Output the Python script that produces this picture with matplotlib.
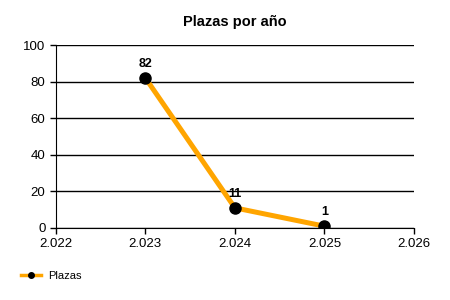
import matplotlib
matplotlib.use("Agg")
import matplotlib.pyplot as plt
from matplotlib.lines import Line2D
from matplotlib.ticker import FuncFormatter

years = [2023, 2024, 2025]
plazas = [82, 11, 1]
x_ticks = [2022, 2023, 2024, 2025, 2026]
y_ticks = [0, 20, 40, 60, 80, 100]

plt.rcParams["font.family"] = ["Liberation Sans", "DejaVu Sans"]

fig = plt.figure(figsize=(4.5, 3), dpi=100)
ax = fig.add_axes([0.124, 0.24, 0.796, 0.61])

ax.plot(years, plazas, color="#FFA500", linewidth=3.6, marker="o",
        markersize=8, markerfacecolor="black", markeredgecolor="black",
        zorder=3)

for x, y in zip(years, plazas):
    ax.annotate(str(y), (x, y), textcoords="offset points", xytext=(0, 6),
                ha="center", va="bottom", fontsize=9, fontweight="bold")

ax.set_xlim(2022, 2026)
ax.set_ylim(0, 100)
ax.set_xticks(x_ticks)
ax.set_yticks(y_ticks)
ax.xaxis.set_major_formatter(FuncFormatter(lambda v, p: f"{int(v):,}".replace(",", ".")))
ax.grid(axis="y", color="black", linewidth=1)
ax.set_axisbelow(True)
for s in ["top", "right"]:
    ax.spines[s].set_visible(False)
ax.tick_params(labelsize=9.5, length=4, width=1)
ax.set_title("Plazas por año", fontsize=10.5, fontweight="bold", pad=14)

# legend handle: thin orange line with small black dot
handle = Line2D([], [], color="#FFA500", linewidth=2.5, marker="o",
                markersize=4, markerfacecolor="black", markeredgecolor="black")
fig.legend([handle], ["Plazas"], loc="lower left", bbox_to_anchor=(0.025, 0.03),
           frameon=False, fontsize=8, handlelength=1.8, handletextpad=0.6)

fig.savefig("out.png", dpi=100)
